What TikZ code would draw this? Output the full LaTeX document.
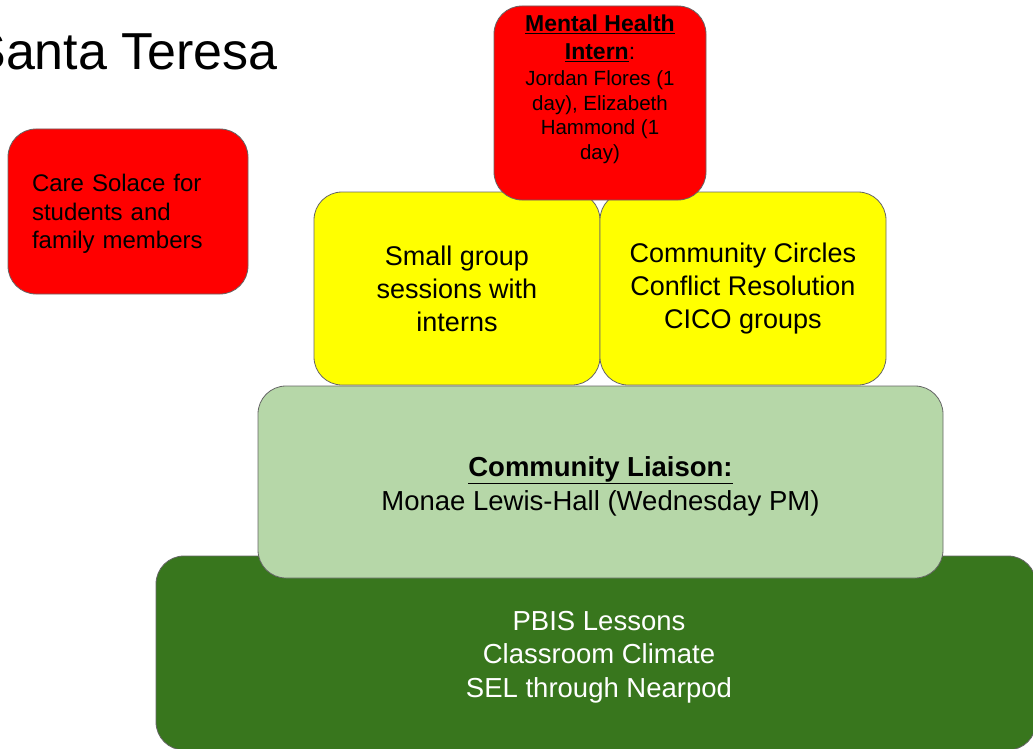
\documentclass[tikz,border=0pt]{standalone}
\usepackage{fontspec}
\setmainfont{Liberation Sans}
\usetikzlibrary{positioning}
\definecolor{tierred}{HTML}{FF0000}
\definecolor{tieryellow}{HTML}{FFFF00}
\definecolor{tierpale}{HTML}{B6D7A8}
\definecolor{tierdark}{HTML}{38761D}
\definecolor{tieredge}{HTML}{666666}
\tikzstyle{tier}=[draw=tieredge, line width=0.8pt, rounded corners=28pt, inner sep=0pt, align=center]
\tikzstyle{redtier}=[tier, fill=tierred]
\tikzstyle{yellowtier}=[tier, fill=tieryellow, minimum width=286pt, minimum height=193pt, font=\fontsize{27}{33}\selectfont]

\begin{document}
\begin{tikzpicture}[x=1pt, y=-1pt]
        \useasboundingbox (0,0) rectangle (1033,749);
        \clip (0,0) rectangle (1033,749);
        \fill[white] (0,0) rectangle (1033,749);
        \node[anchor=base east, inner sep=0pt, font=\fontsize{52}{60}\selectfont] (title) at (278,70) {Santa Teresa};
        \node[tier, fill=tierdark, text=white, minimum width=880pt, minimum height=194pt, font=\fontsize{27.5}{33.5}\selectfont] (pbis) at (596,653) {};
        \node[text=white, align=center, font=\fontsize{27.5}{33.5}\selectfont] (pbisText) at (599,657) {PBIS Lessons\\Classroom Climate\\SEL through Nearpod};
        \node[yellowtier] (groups) at (457,288.5) {Small group\\sessions with\\interns};
        \node[yellowtier] (circles) at (743,288.5) {Community Circles\\Conflict Resolution\\CICO groups};
        \node[tier, fill=tierpale, minimum width=685pt, minimum height=192pt, font=\fontsize{27.5}{34}\selectfont] (liaison) at (600.5,482) {};
        \node[align=center, font=\fontsize{27.5}{34}\selectfont] (liaisonText) at (600.5,486) {\underline{\textbf{Community Liaison:}}\\Monae Lewis-Hall (Wednesday PM)};
        \node[redtier, minimum width=212pt, minimum height=194pt] (intern) at (600,103) {};
        \node[below=9pt of intern.north, inner sep=0pt, align=center, font=\fontsize{20.5}{24.5}\selectfont] (internText) {{\fontsize{23}{28}\selectfont\underline{\textbf{Mental Health}}}\\[3.5pt]{\fontsize{23}{28}\selectfont\underline{\textbf{Intern}}:}\\[2pt]Jordan Flores (1\\day), Elizabeth\\Hammond (1\\day)};
        \node[redtier, minimum width=240pt, minimum height=165pt] (solace) at (128,211.5) {};
        \node[align=left, text width=192pt, inner sep=0pt, font=\fontsize{24}{28.5}\selectfont] (solaceText) at (128,214) {Care Solace for\\students and\\family members};
\end{tikzpicture}
\end{document}
